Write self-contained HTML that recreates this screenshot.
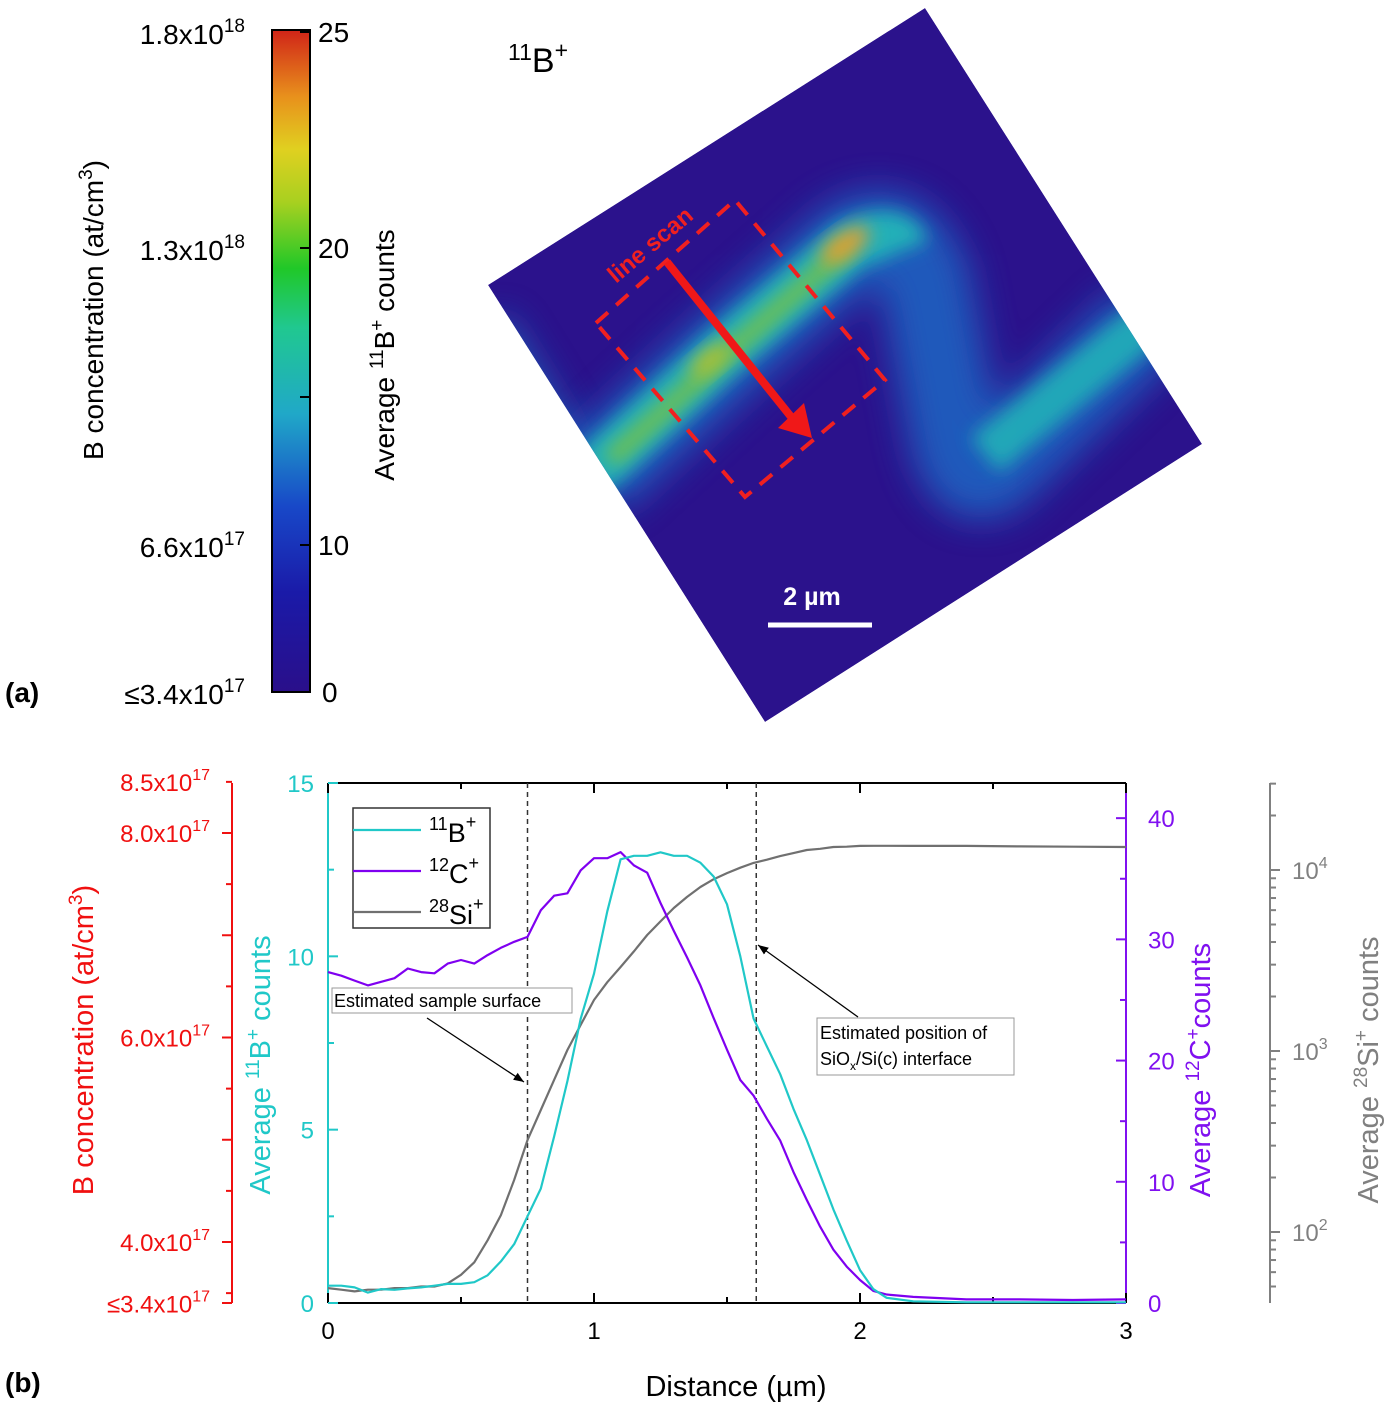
<!DOCTYPE html>
<html><head><meta charset="utf-8"><style>
body{margin:0;background:#fff;}
svg{display:block;font-family:"Liberation Sans",Arial,sans-serif;}
</style></head><body>
<svg id="fig" width="1400" height="1413" viewBox="0 0 1400 1413" xmlns="http://www.w3.org/2000/svg">
<defs>
<linearGradient id="jet" x1="0" y1="1" x2="0" y2="0">
<stop offset="0" stop-color="#2a0f8a"/><stop offset="0.15" stop-color="#1a1aa8"/>
<stop offset="0.28" stop-color="#1848c8"/><stop offset="0.42" stop-color="#20a8c8"/>
<stop offset="0.55" stop-color="#20c890"/><stop offset="0.64" stop-color="#20c828"/>
<stop offset="0.74" stop-color="#a8d020"/><stop offset="0.82" stop-color="#e0d020"/>
<stop offset="0.9" stop-color="#e8901c"/><stop offset="1" stop-color="#d02418"/>
</linearGradient>
<clipPath id="sq"><polygon points="925,8 1202,444 765,722 488,285"/></clipPath>
<filter id="blurA" x="-50%" y="-50%" width="200%" height="200%"><feGaussianBlur stdDeviation="18"/></filter>
<filter id="blurB" x="-50%" y="-50%" width="200%" height="200%"><feGaussianBlur stdDeviation="9"/></filter>
<marker id="ah" viewBox="0 0 10 10" refX="10" refY="5" markerWidth="8" markerHeight="8" orient="auto"><path d="M0,1 L10,5 L0,9 Z" fill="#000"/></marker>
</defs>

<g>
<rect x="272" y="30" width="38" height="662" fill="url(#jet)" stroke="#000" stroke-width="2"/>
<g stroke="#000" stroke-width="2">
<line x1="300" y1="32" x2="310" y2="32"/><line x1="300" y1="248" x2="310" y2="248"/><line x1="300" y1="397" x2="310" y2="397"/><line x1="300" y1="545" x2="310" y2="545"/><line x1="300" y1="692" x2="310" y2="692"/>
</g>
<g font-size="28" fill="#000">
<text x="318" y="42">25</text><text x="318" y="258">20</text><text x="318" y="555">10</text><text x="322" y="702">0</text>
</g>
<g font-size="28" fill="#000" text-anchor="end">
<text x="245" y="44">1.8x10<tspan font-size="19" dy="-12">18</tspan></text>
<text x="245" y="260">1.3x10<tspan font-size="19" dy="-12">18</tspan></text>
<text x="245" y="557">6.6x10<tspan font-size="19" dy="-12">17</tspan></text>
<text x="245" y="704">≤3.4x10<tspan font-size="19" dy="-12">17</tspan></text>
</g>
<text transform="translate(103,310) rotate(-90)" text-anchor="middle" font-size="28">B concentration (at/cm<tspan font-size="19" dy="-11">3</tspan><tspan dy="11">)</tspan></text>
<text transform="translate(394,355) rotate(-90)" text-anchor="middle" font-size="28">Average <tspan font-size="19" dy="-11">11</tspan><tspan dy="11">B</tspan><tspan font-size="19" dy="-11">+</tspan><tspan dy="11"> counts</tspan></text>
<text x="5" y="702" font-size="28" font-weight="bold">(a)</text>

<g clip-path="url(#sq)">
<polygon points="925,8 1202,444 765,722 488,285" fill="#2b128c"/>
<path d="M480,330 L560,460" stroke="#1a70c0" stroke-width="60" fill="none" filter="url(#blurA)" opacity="0.8"/>
<path d="M590,480 L720,360 L850,245 Q900,215 925,280 L955,440 Q970,500 1010,455 L1150,320" stroke="#1a6cc8" stroke-width="90" fill="none" filter="url(#blurA)" opacity="0.8"/>
<path d="M590,475 L720,355 L850,245 Q895,225 905,250" stroke="#22b0b8" stroke-width="50" fill="none" filter="url(#blurB)"/>
<path d="M985,455 L1150,320" stroke="#22b0b8" stroke-width="45" fill="none" filter="url(#blurB)" opacity="0.9"/>
<path d="M610,460 L720,360 L850,245" stroke="#70c050" stroke-width="18" fill="none" filter="url(#blurB)"/>
<ellipse cx="845" cy="245" rx="28" ry="12" transform="rotate(-35 845 245)" fill="#e0a030" filter="url(#blurB)"/>
<ellipse cx="710" cy="360" rx="24" ry="10" transform="rotate(-40 710 360)" fill="#b0c030" filter="url(#blurB)"/>
</g>
<polygon points="596,323 735,200 885,380 745,497" fill="none" stroke="#f02020" stroke-width="4" stroke-dasharray="16,11"/>
<text transform="translate(616,284) rotate(-40)" font-size="24" font-weight="bold" fill="#f02020">line scan</text>
<line x1="667" y1="262" x2="792" y2="418" stroke="#f01818" stroke-width="8"/>
<polygon points="778,428 812,438 804,403" fill="#f01818"/>
<text x="508" y="72" font-size="34"><tspan font-size="23" dy="-12">11</tspan><tspan dy="12">B</tspan><tspan font-size="23" dy="-14">+</tspan></text>
<text x="812" y="605" font-size="25" font-weight="bold" fill="#fff" text-anchor="middle">2 µm</text>
<line x1="768" y1="625" x2="872" y2="625" stroke="#fff" stroke-width="5"/>
</g>

<g id="panelb"></g>
</svg>
<script>
const xs   = [0,0.05,0.1,0.15,0.2,0.25,0.3,0.35,0.4,0.45,0.5,0.55,0.6,0.65,0.7,0.75,0.8,0.85,0.9,0.95,1.0,1.05,1.1,1.15,1.2,1.25,1.3,1.35,1.4,1.45,1.5,1.55,1.6,1.65,1.7,1.75,1.8,1.85,1.9,1.95,2.0,2.05,2.1,2.2,2.4,2.6,2.8,3.0];
const boron = [0.5,0.5,0.45,0.3,0.4,0.38,0.42,0.45,0.5,0.55,0.55,0.6,0.8,1.2,1.7,2.5,3.3,4.8,6.4,8.2,9.5,11.3,12.8,12.9,12.9,13.0,12.9,12.9,12.7,12.3,11.5,10.0,8.2,7.4,6.6,5.6,4.7,3.7,2.7,1.8,0.95,0.4,0.15,0.05,0.02,0.02,0.02,0.02];
const carbon = [27.3,27.0,26.6,26.2,26.5,26.8,27.6,27.3,27.2,28.0,28.3,28.0,28.7,29.3,29.8,30.2,32.4,33.6,33.8,35.7,36.7,36.7,37.2,36.1,35.5,33.0,30.7,28.5,26.2,23.5,20.9,18.4,17.1,15.2,13.4,10.8,8.5,6.3,4.4,3.0,1.9,1.0,0.7,0.5,0.3,0.3,0.25,0.3];
const silicon = [49,48,47,48,48,49,49,50,50,52,58,68,90,124,194,322,472,692,1013,1393,1914,2400,2911,3550,4375,5200,6166,7100,8054,8900,9616,10300,10940,11400,11940,12400,12890,13100,13400,13450,13580,13600,13600,13580,13580,13500,13450,13400];
const xTicks = [0,1,2,3];
const bTicks = [0,5,10,15];
const cTicks = [0,10,20,30,40];
const siTickExp = [2,3,4];
const redTicks = [8.5,8.0,6.0,4.0,3.4];

const L=328,R=1126,T=783,B=1303;
const X=v=>L+(v/3)*(R-L);
const YB=v=>B-(v/15)*(B-T);
const YC=v=>B-(v/42.9)*(B-T);
const YS=v=>1051-181*(Math.log10(v)-3);
const YR=v=>1242-(v-4)*102.25;
const NS="http://www.w3.org/2000/svg";
const g=document.getElementById('panelb');
function mk(tag,attrs,parent){const e=document.createElementNS(NS,tag);for(const k in attrs)e.setAttribute(k,attrs[k]);(parent||g).appendChild(e);return e;}
function line(x1,y1,x2,y2,c,w,extra){return mk('line',Object.assign({x1,y1,x2,y2,stroke:c,'stroke-width':w},extra||{}));}

let fr=line(L,T,R,T,'#000',2);
let fb=line(L,B,R,B,'#000',2);
let fl=line(L,T,L,B,'#20c8c8',2);
let frr=line(R,T,R,B,'#8010f0',2);

for(let v=0;v<=3.001;v+=0.5){const x=X(v);const len=Number.isInteger(v)?10:6;line(x,B,x,B-len,'#000',2);line(x,T,x,T+len,'#000',2);}
xTicks.forEach(v=>{const t=mk('text',{x:X(v),y:B+36,'font-size':24,'text-anchor':'middle'});t.textContent=v;
});
for(let v=0;v<=15;v+=2.5){const y=YB(v);line(L,y,L+(v%5===0?10:6),y,'#20c8c8',2);}
bTicks.forEach(v=>{const t=mk('text',{x:L-14,y:YB(v)+9,'font-size':24,'text-anchor':'end',fill:'#20c8c8'});t.textContent=v;
});
for(let v=0;v<=40;v+=5){const y=YC(v);line(R,y,R-(v%10===0?10:6),y,'#8010f0',2);}
cTicks.forEach(v=>{const t=mk('text',{x:R+22,y:YC(v)+9,'font-size':24,fill:'#8010f0'});t.textContent=v;
});
const RX=232;
let ra=line(RX,T,RX,B,'#f01010',2);
for(let v=3.5;v<=8.5;v+=0.5){line(RX,YR(v),RX-(Number.isInteger(v)?10:6),YR(v),'#f01010',2);}
line(RX,B,RX-10,B,'#f01010',2);
redTicks.forEach(v=>{const t=mk('text',{x:RX-22,y:YR(v)+9,'font-size':24,'text-anchor':'end',fill:'#f01010'});
t.innerHTML=(v===3.4?'≤':'')+v.toFixed(1)+'x10<tspan font-size="16" dy="-11">17</tspan>';
});
const GX=1270;
let ga=line(GX,T,GX,B,'#808080',2);
for(let e=1;e<=4;e++){for(let m=1;m<10;m++){const v=m*Math.pow(10,e);const y=YS(v);if(y<T||y>B)continue;line(GX,y,GX+(m===1?10:6),y,'#808080',2);}}
siTickExp.forEach(e=>{const t=mk('text',{x:GX+22,y:YS(Math.pow(10,e))+9,'font-size':24,fill:'#808080'});
t.innerHTML='10<tspan font-size="16" dy="-11">'+e+'</tspan>';
});

[0.75,1.61].forEach(v=>{const d=line(X(v),T,X(v),B,'#333',1.5,{'stroke-dasharray':'5,4'});});

function series(arr,yf,color,name){const pts=xs.map((x,i)=>X(x).toFixed(1)+','+yf(arr[i]).toFixed(1)).join(' ');
const p=mk('polyline',{points:pts,fill:'none',stroke:color,'stroke-width':2.2,'stroke-linejoin':'round'});
}
series(silicon,YS,'#707070','silicon-line');
series(carbon,YC,'#7f00f0','carbon-line');
series(boron,YB,'#20c8c8','boron-line');

const lg=mk('g',{});
mk('rect',{x:353,y:808,width:137,height:120,fill:'#fff',stroke:'#333','stroke-width':1.5},lg);
[['#20c8c8','11','B',830],['#7f00f0','12','C',871],['#707070','28','Si',912]].forEach(([c,n,s,y])=>{
const e=mk('g',{},lg);
mk('line',{x1:353,y1:y,x2:421,y2:y,stroke:c,'stroke-width':2.2},e);
const t=mk('text',{x:429,y:y+12,'font-size':27},e);t.innerHTML='<tspan font-size="18" dy="-12">'+n+'</tspan><tspan dy="12">'+s+'</tspan><tspan font-size="18" dy="-14">+</tspan>';});

const a1=mk('g',{});
mk('rect',{x:332,y:988,width:240,height:25,fill:'#fff',stroke:'#999','stroke-width':1},a1);
let t1=mk('text',{x:334,y:1007,'font-size':18},a1);t1.textContent='Estimated sample surface';
mk('line',{x1:427,y1:1018,x2:524,y2:1082,stroke:'#000','stroke-width':1.3,'marker-end':'url(#ah)'},a1);
const a2=mk('g',{});
mk('rect',{x:817,y:1018,width:197,height:57,fill:'#fff',stroke:'#999','stroke-width':1},a2);
let t2=mk('text',{x:820,y:1039,'font-size':18},a2);t2.textContent='Estimated position of';
let t3=mk('text',{x:820,y:1065,'font-size':18},a2);t3.innerHTML='SiO<tspan font-size="12" dy="5">x</tspan><tspan dy="-5">/Si(c) interface</tspan>';
mk('line',{x1:858,y1:1017,x2:758,y2:945,stroke:'#000','stroke-width':1.3,'marker-end':'url(#ah)'},a2);

function title(x,y,html,color,name,rot){const t=mk('text',{transform:'translate('+x+','+y+')'+(rot?' rotate(-90)':''),'text-anchor':'middle','font-size':29,fill:color});t.innerHTML=html;}
title(93,1040,'B concentration (at/cm<tspan font-size="19" dy="-11">3</tspan><tspan dy="11">)</tspan>','#f01010','concentration-axis-title',true);
title(270,1065,'Average <tspan font-size="19" dy="-11">11</tspan><tspan dy="11">B</tspan><tspan font-size="19" dy="-11">+</tspan><tspan dy="11"> counts</tspan>','#20c8c8','boron-axis-title',true);
title(1210,1070,'Average <tspan font-size="19" dy="-11">12</tspan><tspan dy="11">C</tspan><tspan font-size="19" dy="-11">+</tspan><tspan dy="11">counts</tspan>','#8010f0','carbon-axis-title',true);
title(1378,1070,'Average <tspan font-size="19" dy="-11">28</tspan><tspan dy="11">Si</tspan><tspan font-size="19" dy="-11">+</tspan><tspan dy="11"> counts</tspan>','#808080','silicon-axis-title',true);
title(736,1396,'Distance (µm)','#000','x-axis-title',false);
const pb=mk('text',{x:5,y:1392,'font-size':28,'font-weight':'bold'});pb.textContent='(b)';

</script>
</body></html>
